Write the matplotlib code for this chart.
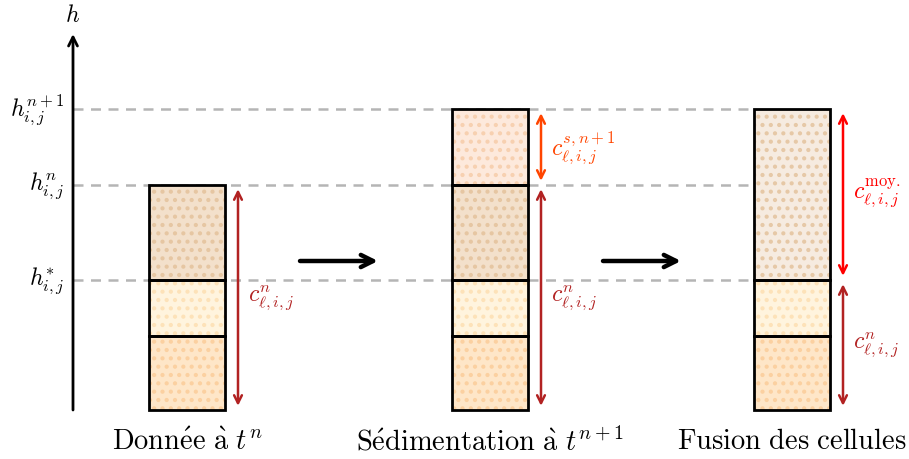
import matplotlib
matplotlib.use("Agg")
import matplotlib.pyplot as plt
from matplotlib.patches import Rectangle

plt.rcParams['mathtext.fontset'] = 'cm'
plt.rcParams['font.family'] = ['DejaVu Serif']
plt.rcParams['hatch.linewidth'] = 1.8

# ---- data (heights, in drawing units from the bottom) ----
level_names = [r"$h^{*}_{i,j}$", r"$h^{n}_{i,j}$", r"$h^{n+1}_{i,j}$"]
level_values = [130, 225, 301]
bottom_layer_top = 74
axis_top = 376

column_titles = [r"$\mathrm{Donn\acute{e}e\ \grave{a}}\ t^{n}$",
                 r"$\mathrm{S\acute{e}dimentation\ \grave{a}}\ t^{n+1}$",
                 r"$\mathrm{Fusion\ des\ cellules}$"]
# layers per column: (bottom, top, fill, dots)
col1_layers = [(0, 74, "#fee6c8", "#fbd0a0"), (74, 130, "#fff4de", "#fde2b8"),
               (130, 225, "#f3e0cb", "#e6c6a2")]
col2_layers = [(0, 74, "#fee6c8", "#fbd0a0"), (74, 130, "#fff4de", "#fde2b8"),
               (130, 225, "#f3e0cb", "#e6c6a2"), (225, 301, "#fde9dc", "#f7d0b0")]
col3_layers = [(0, 74, "#fee6c8", "#fbd0a0"), (74, 130, "#fff4de", "#fde2b8"),
               (130, 301, "#f6ebe0", "#e6c8a6")]
columns_layers = [col1_layers, col2_layers, col3_layers]

# arrows: (column index, low, high, color, label, label y)
dim_arrows = [
    (0, 0, 225, "#b22222", r"$c^{n}_{\ell,i,j}$", 113),
    (1, 0, 225, "#b22222", r"$c^{n}_{\ell,i,j}$", 113),
    (1, 225, 301, "#ff4500", r"$c^{s,n+1}_{\ell,i,j}$", 263),
    (2, 0, 130, "#b22222", r"$c^{n}_{\ell,i,j}$", 66),
    (2, 130, 301, "#ff0000", r"$c^{\mathrm{moy.}}_{\ell,i,j}$", 218),
]

# ---- layout ----
W, H = 909, 460
fig = plt.figure(figsize=(W / 100, H / 100), dpi=100)
ax = fig.add_axes([0, 0, 1, 1])
ax.set_xlim(0, W)
ax.set_ylim(-49, 411)
ax.axis("off")

axis_x = 73
col_left = [149, 452, 754]
col_w = 76
dash_end = 752

# vertical axis
ax.annotate("", xy=(axis_x, axis_top), xytext=(axis_x, 0),
            arrowprops=dict(arrowstyle="->", lw=2, color="black", mutation_scale=16,
                            shrinkA=0, shrinkB=0))
ax.text(axis_x, axis_top + 8, r"$h$", ha="center", va="bottom", fontsize=17)

# dashed levels
for name, v in zip(level_names, level_values):
    ax.plot([axis_x, dash_end], [v, v], ls=(0, (4, 3)), color="#b5b5b5", lw=1.8, zorder=1)
    ax.text(axis_x - 9, v, name, ha="right", va="center", fontsize=17)

# columns
for left, layers in zip(col_left, columns_layers):
    for lo, hi, fill, dots in layers:
        ax.add_patch(Rectangle((left, lo), col_w, hi - lo, facecolor=fill,
                               edgecolor=dots, hatch="..", lw=0, zorder=2))
        ax.add_patch(Rectangle((left, lo), col_w, hi - lo, facecolor="none",
                               edgecolor="black", lw=2, zorder=3))

# dimension arrows
for ci, lo, hi, color, label, ly in dim_arrows:
    x = col_left[ci] + col_w + 13
    ax.annotate("", xy=(x, hi), xytext=(x, lo),
                arrowprops=dict(arrowstyle="<->", lw=1.8, color=color, mutation_scale=14,
                                shrinkA=3, shrinkB=3))
    ax.text(x + 10, ly, label, ha="left", va="center", fontsize=17, color=color)

# big process arrows
for i in range(2):
    x0 = col_left[i] + col_w + 75
    ax.annotate("", xy=(x0 + 78, 149), xytext=(x0, 149),
                arrowprops=dict(arrowstyle="->", lw=3.2, color="black", mutation_scale=22,
                                shrinkA=0, shrinkB=0))

# column titles
for left, title in zip(col_left, column_titles):
    ax.text(left + col_w / 2, -31, title, ha="center", va="center", fontsize=20.5)

fig.savefig("out.png", dpi=100)
